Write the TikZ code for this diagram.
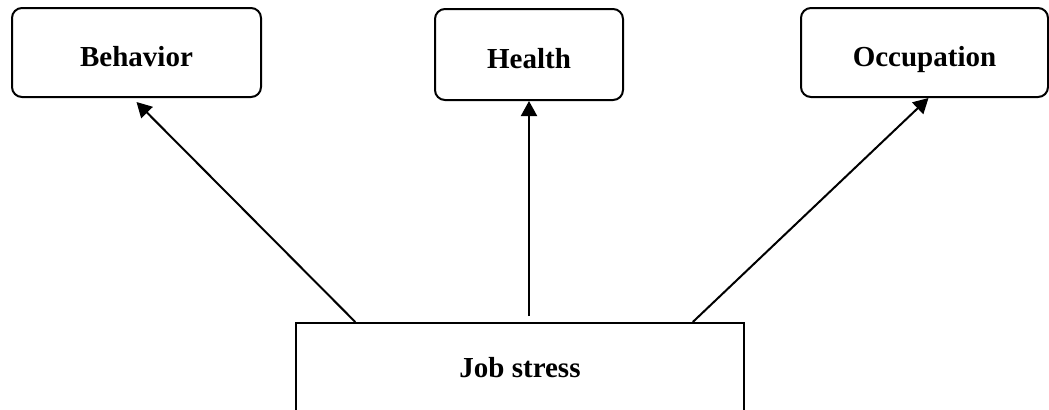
\documentclass[tikz,border=0pt]{standalone}
\usepackage{fontspec}
\setmainfont{Liberation Serif}
\usetikzlibrary{calc,arrows.meta}
\colorlet{BoxBorder}{black}
\colorlet{ConnectorLine}{black}

\begin{document}
\begin{tikzpicture}[x=0.5pt, y=-0.5pt,
    OutcomeBox/.style={draw=BoxBorder, line width=1pt, rounded corners=5pt,
        minimum width=#1, minimum height=44.5pt, inner sep=0pt,
        text height=13.5pt, text depth=0pt,
        font=\fontsize{14.5}{17}\selectfont\bfseries},
    CauseBox/.style={draw=BoxBorder, line width=1pt,
        minimum width=224pt, minimum height=44.5pt, inner sep=0pt,
        text height=12.5pt, text depth=3pt,
        font=\fontsize{14.5}{17}\selectfont\bfseries},
    Connector/.style={draw=ConnectorLine, line width=1pt,
        -{Triangle[length=7.5pt, width=8pt]}}]

    \useasboundingbox (0, 0) rectangle (1049, 409);

    \node [OutcomeBox=124.5pt] (Behavior) at (136.5, 52.5) {Behavior};
    \node [OutcomeBox=94pt, minimum height=45.5pt] (Health) at (529, 54.5) {Health};
    \node [OutcomeBox=123.5pt] (Occupation) at (924.5, 52.5) {Occupation};

    % La caja inferior queda cortada por el borde de la imagen.
    \node [CauseBox] (JobStress) at (520, 367.5) {Job stress};

    \draw [Connector]
    ($(JobStress.north west)!0.134!(JobStress.north east)$)
    -- ([yshift=-2pt]Behavior.south);
    \draw [Connector]
    ($(JobStress.north -| Health.south) + (0, -6)$)
    -- (Health.south);
    \draw [Connector]
    ($(JobStress.north west)!0.884!(JobStress.north east)$)
    -- ([xshift=2pt]Occupation.south);
\end{tikzpicture}
\end{document}
